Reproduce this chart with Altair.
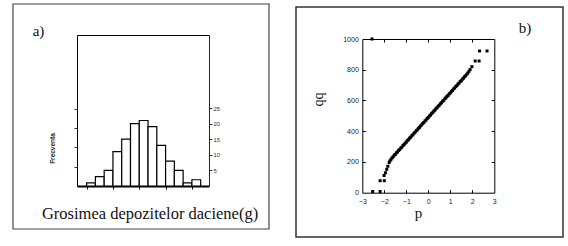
import altair as alt
import pandas as pd

# ---------------- data ----------------
hist_counts = [1, 3, 5, 11, 15, 20, 21, 19, 13, 8, 5, 1, 2]
hist_bins = list(range(13))
hist_bottom_ticks = [0, 3, 6, 9, 12]
hist_right_ticks = [5, 10, 15, 20, 25]
hist_left_ticks = [6.2, 12.4, 18.6, 24.8]

qq_p = [-2.56, -2.53, -2.19, -2.19, -2.00, -2.01, -1.95, -1.89, -1.84,
        -1.78, -1.75, -1.70, -1.65, -1.60, -1.55, -1.50, -1.45, -1.40, -1.35, -1.30,
        -1.25, -1.20, -1.15, -1.10, -1.05, -1.00, -0.95, -0.90, -0.85, -0.80, -0.75,
        -0.70, -0.65, -0.60, -0.55, -0.50, -0.45, -0.40, -0.35, -0.30, -0.25, -0.20,
        -0.15, -0.10, -0.05, 0.00, 0.05, 0.10, 0.15, 0.20, 0.25, 0.30, 0.35, 0.40,
        0.45, 0.50, 0.55, 0.60, 0.65, 0.70, 0.75, 0.80, 0.85, 0.90, 0.95, 1.00,
        1.05, 1.10, 1.15, 1.20, 1.25, 1.30, 1.35, 1.40, 1.45, 1.50, 1.55, 1.60,
        1.65, 1.70, 1.75, 1.80, 1.85, 1.90, 1.98, 2.13, 2.31, 2.33, 2.67]
qq_v = [1000, 8, 8, 78, 78, 112, 130, 152, 172,
        196, 206, 215, 226, 233, 244, 249, 260, 265, 275, 281,
        291, 296, 307, 313, 323, 329, 339, 345, 355, 361, 371,
        377, 387, 393, 403, 409, 419, 425, 435, 441, 451, 457,
        467, 473, 483, 489, 499, 505, 515, 521, 531, 537, 547, 553,
        563, 569, 579, 585, 595, 601, 611, 617, 627, 633, 643, 649,
        659, 665, 675, 681, 691, 697, 707, 713, 723, 729, 739, 745,
        755, 761, 771, 779, 790, 801, 820, 857, 857, 922, 922]
qq_x_ticks = [-3, -2, -1, 0, 1, 2, 3]
qq_y_ticks = [0, 200, 400, 600, 800, 1000]

W, H = 568, 246
SERIF = "Liberation Serif"
SANS = "Liberation Sans"

hdf = pd.DataFrame({
    "start": hist_bins,
    "end": [b + 1 for b in hist_bins],
    "count": hist_counts,
    "base": [0] * len(hist_bins),
})
qdf = pd.DataFrame({"p": qq_p, "qq": qq_v})

# pixel-placed scales
HX = alt.Scale(domain=[-1.1, 13.95], range=[77, 209], nice=False, zero=False)
HY = alt.Scale(domain=[0, 48.4], range=[186, 35], nice=False, zero=False)
QX = alt.Scale(domain=[-3, 3], range=[362.3, 494.3], nice=False, zero=False)
QY = alt.Scale(domain=[0, 1000], range=[192.7, 39], nice=False, zero=False)

# ---------- histogram ----------
hist = alt.Chart(hdf).mark_rect(fill="white", stroke="black", strokeWidth=1.2).encode(
    x=alt.X("start:Q", scale=HX, axis=alt.Axis(
        orient="bottom", offset=186 - H, values=hist_bottom_ticks, labels=False,
        tickSize=3, tickColor="black", domainColor="black", domainWidth=2, grid=False,
        title="Grosimea depozitelor daciene(g)", titleFont=SERIF, titleFontSize=16.5,
        titleFontWeight="normal", titleColor="#111", titleX=149.5, titleY=27.5,
        titleAlign="center", titleBaseline="middle")),
    x2="end:Q",
    y=alt.Y("count:Q", scale=HY, axis=alt.Axis(
        orient="left", offset=-77, values=hist_left_ticks, labels=False,
        tickSize=3, tickColor="#333", domainColor="black", domainWidth=1, grid=False,
        title="Frecventa", titleFont=SANS, titleFontSize=6.5, titleFontWeight="bold",
        titleColor="#222", titleX=-24.5, titleY=148, titleAngle=270,
        titleAlign="center", titleBaseline="middle")),
    y2="base:Q",
)

hist_frame = alt.Chart(hdf).mark_rect(opacity=0).encode(
    x=alt.X("start:Q", scale=HX, axis=alt.Axis(
        orient="top", offset=-35, labels=False, ticks=False, grid=False,
        domainColor="black", domainWidth=1, title=None)),
    x2="end:Q",
    y=alt.Y("count:Q", scale=HY, axis=alt.Axis(
        orient="right", offset=209 - W, values=hist_right_ticks, grid=False,
        tickSize=3, tickColor="#333", domainColor="#222", domainWidth=1,
        labelPadding=1, labelFont=SANS, labelFontSize=6, labelColor="#333",
        labelFlush=False, labelOverlap=False, title=None)),
    y2="base:Q",
)

# ---------- QQ plot ----------
qq_pts = alt.Chart(qdf).mark_square(size=9, color="black", opacity=1).encode(
    x=alt.X("p:Q", scale=QX, axis=alt.Axis(
        orient="bottom", offset=192.7 - H, values=qq_x_ticks, ticks=False, grid=False,
        domainColor="black", domainWidth=1, format="d",
        labelPadding=5, labelFont=SANS, labelFontSize=7, labelColor="#222",
        labelFlush=False, labelOverlap=False,
        title="p", titleFont=SERIF, titleFontSize=15, titleFontWeight="normal",
        titleColor="#111", titleX=418, titleY=19.5, titleAlign="center",
        titleBaseline="middle")),
    y=alt.Y("qq:Q", scale=QY, axis=alt.Axis(
        orient="left", offset=-362.3, values=qq_y_ticks, ticks=False, grid=False,
        domainColor="black", domainWidth=1, format="d",
        labelPadding=4, labelFont=SANS, labelFontSize=7, labelColor="#222",
        labelFlush=False, labelOverlap=False,
        title="qq", titleFont=SERIF, titleFontSize=14, titleFontWeight="normal",
        titleColor="#111", titleX=-44, titleY=99, titleAngle=270,
        titleAlign="center", titleBaseline="middle")),
)

qq_ticks_a = alt.Chart(qdf).mark_square(opacity=0).encode(
    x=alt.X("p:Q", scale=QX, axis=alt.Axis(
        orient="top", offset=-192.7, values=[-2, -1, 0, 1, 2], labels=False,
        domain=False, tickSize=3, tickColor="black", grid=False, title=None)),
    y=alt.Y("qq:Q", scale=QY, axis=alt.Axis(
        orient="right", offset=362.3 - W, values=[200, 400, 600, 800], labels=False,
        domain=False, tickSize=3, tickColor="black", grid=False, title=None)),
)

qq_ticks_b = alt.Chart(qdf).mark_square(opacity=0).encode(
    x=alt.X("p:Q", scale=QX, axis=alt.Axis(
        orient="bottom", offset=39 - H, values=[-2, -1, 0, 1, 2], labels=False,
        domainColor="black", domainWidth=1, tickSize=3, tickColor="black",
        grid=False, title=None)),
    y=alt.Y("qq:Q", scale=QY, axis=alt.Axis(
        orient="left", offset=-494.3, values=[200, 400, 600, 800], labels=False,
        domainColor="black", domainWidth=1, tickSize=3, tickColor="black",
        grid=False, title=None)),
)

# ---------- decoration: panel boxes and letters ----------
one = pd.DataFrame({"k": [0]})
box_a = alt.Chart(one).mark_rect(fill="transparent", stroke="#444", strokeWidth=1.2).encode(
    x=alt.value(13), x2=alt.value(269), y=alt.value(4), y2=alt.value(229))
box_b = alt.Chart(one).mark_rect(fill="transparent", stroke="#333", strokeWidth=1.5).encode(
    x=alt.value(296), x2=alt.value(563), y=alt.value(7), y2=alt.value(237))
lab_a = alt.Chart(one).mark_text(text="a)", font=SERIF, fontSize=15, color="#111",
                                 align="center", baseline="middle").encode(
    x=alt.value(38.5), y=alt.value(31))
lab_b = alt.Chart(one).mark_text(text="b)", font=SERIF, fontSize=15, color="#111",
                                 align="center", baseline="middle").encode(
    x=alt.value(525), y=alt.value(28))

chart = alt.layer(
    box_a, box_b, hist, hist_frame, qq_pts, qq_ticks_a, qq_ticks_b, lab_a, lab_b
).resolve_scale(
    x="independent", y="independent"
).properties(
    width=W, height=H, padding=0, autosize=alt.AutoSizeParams(type="none"),
    background="white"
).configure_view(strokeWidth=0)

chart.save("out.html", embed_options={"renderer": "svg", "actions": False})
